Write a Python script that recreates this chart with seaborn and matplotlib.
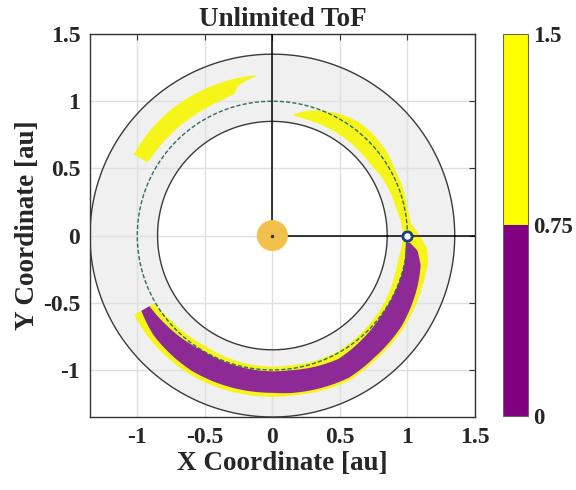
import numpy as np
import matplotlib
matplotlib.use("Agg")
import matplotlib.pyplot as plt
import seaborn as sns
import pandas as pd
from matplotlib.colors import ListedColormap, BoundaryNorm
from matplotlib.cm import ScalarMappable

# ---------------- data (polar: angle in degrees, radius in au) ----------------
# upper-left yellow region
ul_theta = [96, 100, 103, 105, 110, 120, 130, 140, 149.5]
ul_rin   = [1.19, 1.165, 1.14, 1.09, 1.075, 1.065, 1.065, 1.065, 1.07]
ul_rout  = [1.20, 1.20, 1.20, 1.20, 1.20, 1.20, 1.20, 1.195, 1.19]

# long yellow region (right side down around the bottom)
y_theta = [80, 75, 70, 62, 53, 45, 35, 28, 20, 12, 5, 0, -5, -10, -15, -25,
           -35, -50, -62, -83, -90, -105, -121, -140, -150]
y_rin   = [0.905, 0.90, 0.90, 0.90, 0.90, 0.90, 0.90, 0.92, 0.93, 0.94, 0.96,
           0.97, 0.96, 0.95, 0.95, 0.96, 0.97, 0.98, 0.99, 0.975, 0.975, 0.97,
           0.96, 0.98, 1.01]
y_rout  = [0.915, 0.96, 0.99, 1.03, 1.06, 1.06, 1.05, 1.03, 1.03, 1.02, 1.03,
           1.09, 1.15, 1.17, 1.17, 1.18, 1.19, 1.20, 1.22, 1.20, 1.20, 1.20,
           1.20, 1.19, 1.18]

# purple region
p_theta = [-3, -6, -11.5, -20, -35, -50, -62, -83, -90, -105, -121, -140, -150]
p_rin   = [0.99, 0.99, 1.00, 1.00, 1.00, 1.02, 1.04, 1.01, 1.01, 1.005, 1.00, 1.03, 1.05]
p_rout  = [1.02, 1.08, 1.12, 1.14, 1.17, 1.18, 1.20, 1.18, 1.17, 1.17, 1.17, 1.15, 1.12]

inner_r, outer_r, orbit_r, sun_r = 0.85, 1.35, 1.0, 0.115
earth_x, earth_y = [1.0], [0.0]

ticks = [-1, -0.5, 0, 0.5, 1, 1.5]
tick_labels = ["-1", "-0.5", "0", "0.5", "1", "1.5"]
cbar_bounds = [0, 0.75, 1.5]
cbar_labels = ["0", "0.75", "1.5"]
cbar_colors = ["#800080", "#ffff00"]
band_purple = "#8e2a96"
band_yellow = "#f5f51a"

# ---------------- style ----------------
sns.set_theme(style="whitegrid")
plt.rcParams["font.family"] = ["Liberation Serif", "DejaVu Serif"]
plt.rcParams["font.weight"] = "bold"
plt.rcParams["axes.unicode_minus"] = False

fig = plt.figure(figsize=(5.76, 4.90), dpi=100)
ax = fig.add_axes([90 / 576, 1 - 417 / 490, 385 / 576, 383 / 490])
cax = fig.add_axes([503 / 576, 1 - 416 / 490, 25 / 576, 382 / 490])

ax.set_facecolor("white")
ax.set_axisbelow(True)
ax.grid(True, color="#e0e0e0", linewidth=1.0)

def band(theta, rin, rout):
    t = np.deg2rad(np.asarray(theta, float))
    rin = np.asarray(rin, float)
    rout = np.asarray(rout, float)
    xs = np.concatenate([rout * np.cos(t), (rin * np.cos(t))[::-1]])
    ys = np.concatenate([rout * np.sin(t), (rin * np.sin(t))[::-1]])
    return xs, ys

def smooth(theta, *rs, n=8):
    th = np.asarray(theta, float)
    out_t = []
    for i in range(len(th) - 1):
        out_t.extend(np.linspace(th[i], th[i + 1], n, endpoint=False))
    out_t.append(th[-1])
    out_t = np.array(out_t)
    order = np.argsort(th)
    res = [out_t]
    for r in rs:
        res.append(np.interp(out_t, th[order], np.asarray(r, float)[order]))
    return res

phi = np.linspace(0, 2 * np.pi, 400)
# grey annulus
ax.fill(outer_r * np.cos(phi), outer_r * np.sin(phi), color="#f0f0f0", zorder=0.2, lw=0)
ax.fill(inner_r * np.cos(phi), inner_r * np.sin(phi), color="white", zorder=0.3, lw=0)

# regions
for th, ri, ro, col in [(ul_theta, ul_rin, ul_rout, band_yellow),
                        (y_theta, y_rin, y_rout, band_yellow),
                        (p_theta, p_rin, p_rout, band_purple)]:
    t2, ri2, ro2 = smooth(th, ri, ro)
    xs, ys = band(t2, ri2, ro2)
    ax.fill(xs, ys, color=col, lw=0, zorder=2)

# boundary circles
circ = pd.DataFrame({"x": np.cos(phi), "y": np.sin(phi)})
ax.plot(inner_r * circ.x, inner_r * circ.y, color="#3a3a3a", lw=1.0, zorder=3)
ax.plot(outer_r * circ.x, outer_r * circ.y, color="#3a3a3a", lw=1.0, zorder=3)
ax.plot(orbit_r * circ.x, orbit_r * circ.y, color="#2e6e5c", lw=1.0,
        ls=(0, (3, 1.5)), zorder=3)

# axes lines from the Sun
ax.plot([0, 0], [0, 1.5], color="black", lw=1.1, zorder=3)
ax.plot([0, 1.5], [0, 0], color="black", lw=1.1, zorder=3)

# Sun
ax.fill(sun_r * np.cos(phi), sun_r * np.sin(phi), color="#f2c14b", lw=0, zorder=4)
ax.plot([0], [0], marker="o", ms=1.5, color="#333333", zorder=5)

# Earth
sns.scatterplot(x=earth_x, y=earth_y, ax=ax, s=45, facecolor="white",
                edgecolor="#1b3f78", linewidth=2.0, zorder=6)

ax.set_xlim(-1.35, 1.5)
ax.set_ylim(-1.35, 1.5)
ax.set_xticks(ticks)
ax.set_xticklabels(tick_labels)
ax.set_yticks(ticks)
ax.set_yticklabels(tick_labels)
ax.tick_params(axis="both", labelsize=17, direction="in", length=4, width=0.8,
               color="#333333", top=True, right=True, pad=7)
for lab in ax.get_xticklabels() + ax.get_yticklabels():
    lab.set_fontweight("bold")
for sp in ax.spines.values():
    sp.set_color("#333333")
    sp.set_linewidth(1.0)

ax.set_title("Unlimited ToF", fontsize=19.5, fontweight="bold", pad=6)
ax.set_xlabel("X Coordinate [au]", fontsize=19.5, fontweight="bold", labelpad=2)
ax.set_ylabel("Y Coordinate [au]", fontsize=19.5, fontweight="bold", labelpad=2)

# colorbar
cmap = ListedColormap(cbar_colors)
norm = BoundaryNorm(cbar_bounds, cmap.N)
cb = fig.colorbar(ScalarMappable(norm=norm, cmap=cmap), cax=cax, ticks=cbar_bounds)
cb.ax.set_yticklabels(cbar_labels)
cb.ax.tick_params(length=0, labelsize=16.5, pad=4)
for lab in cb.ax.get_yticklabels():
    lab.set_fontweight("bold")
cb.outline.set_edgecolor("#666666")
cb.outline.set_linewidth(0.8)

fig.savefig("out.png", dpi=100)
